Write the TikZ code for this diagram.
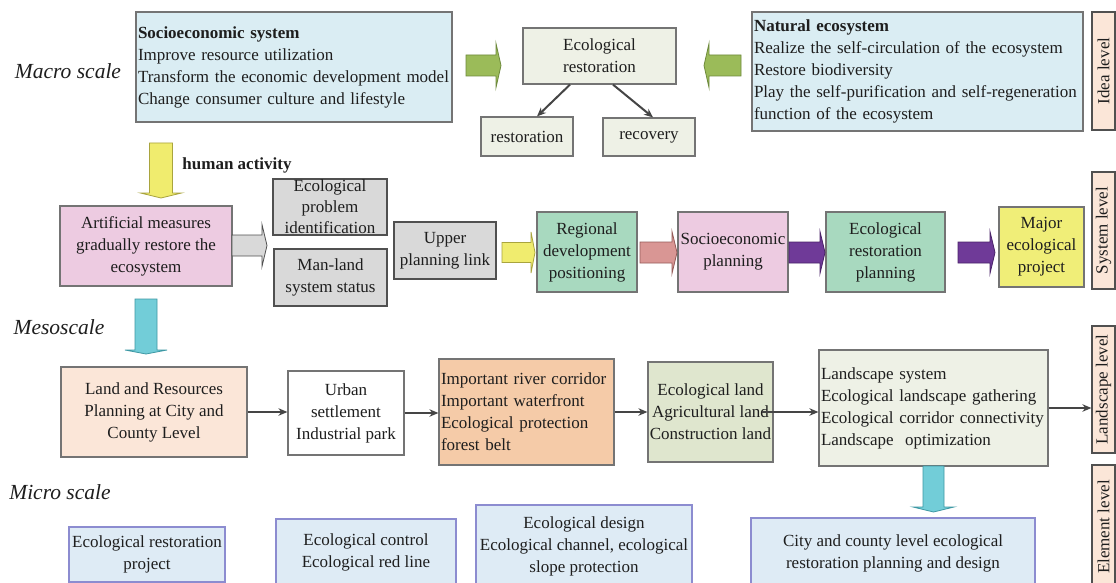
\documentclass[tikz,border=0pt]{standalone}
\usepackage{fontspec}
\setmainfont{Liberation Serif}
\usetikzlibrary{arrows.meta,calc}

\definecolor{ink}{HTML}{1E1E1E}
\definecolor{edge}{HTML}{747474}
\definecolor{darkedge}{HTML}{505050}
\definecolor{cblue}{HTML}{DAEDF3}
\definecolor{cpale}{HTML}{EEF1E6}
\definecolor{cgreen}{HTML}{9BBB59}
\definecolor{cgreenD}{HTML}{6E8A3C}
\definecolor{cyellow}{HTML}{F0EC6E}
\definecolor{cyellowD}{HTML}{A9A43E}
\definecolor{cpink}{HTML}{EDCBE1}
\definecolor{cgray}{HTML}{D9D9D9}
\definecolor{cmint}{HTML}{A8D9BF}
\definecolor{csalmon}{HTML}{D99694}
\definecolor{csalmonD}{HTML}{955B59}
\definecolor{cpurple}{HTML}{6F3A98}
\definecolor{cpurpleD}{HTML}{4A2368}
\definecolor{cyelbox}{HTML}{F0EE78}
\definecolor{cpeach}{HTML}{FBE6D8}
\definecolor{corange}{HTML}{F5CBA8}
\definecolor{colive}{HTML}{DFE6CE}
\definecolor{ccyan}{HTML}{72CDD8}
\definecolor{ccyanD}{HTML}{3E98A4}
\definecolor{cbot}{HTML}{DEEBF5}
\definecolor{cbotedge}{HTML}{8C8CD0}
\definecolor{conncol}{HTML}{454545}

% block arrow: style, tail point, direction angle, length, body half-width, head half-width, head length
\newcommand\blockarrow[7]{%
  \begin{scope}[shift={#2},rotate=#3]
    \filldraw[line width=0.8pt,#1] (0,#5) -- ({#4-#7},#5) -- ({#4-#7},#6) -- (#4,0)
      -- ({#4-#7},-#6) -- ({#4-#7},-#5) -- (0,-#5) -- cycle;
  \end{scope}}

\begin{document}
\begin{tikzpicture}[x=1pt,y=-1pt,
  box/.style={draw=edge, line width=1.2pt, inner sep=0pt, align=center, text=ink,
    font=\fontsize{17}{22}\selectfont},
  lbox/.style={box, align=left, inner xsep=2pt},
  graybox/.style={box, fill=cgray, draw=darkedge},
  botbox/.style={box, fill=cbot, draw=cbotedge},
  levelbox/.style={box, fill=cpeach, draw=darkedge, rotate=90, minimum height=23},
  scalelabel/.style={text=ink, inner sep=0pt, font=\fontsize{21.5}{26}\selectfont\itshape},
  conn/.style={draw=conncol, line width=2pt, -{Stealth[length=9pt,width=7.5pt]}},
  greenarrow/.style={fill=cgreen, draw=cgreenD},
  yellowarrow/.style={fill=cyellow, draw=cyellowD},
  grayarrow/.style={fill=cgray, draw=darkedge},
  salmonarrow/.style={fill=csalmon, draw=csalmonD},
  purplearrow/.style={fill=cpurple, draw=cpurpleD},
  cyanarrow/.style={fill=ccyan, draw=ccyanD},
]
\fill[white] (0,0) rectangle (1116,583);
\useasboundingbox (0,0) rectangle (1116,583);

% ---------- macro scale ----------
\node[scalelabel] (macro) at (68,71) {Macro scale};
\node[lbox, fill=cblue, minimum width=316, minimum height=110, text width=312] (socio) at (294,67)
  {\textbf{Socioeconomic system}\\Improve resource utilization\\Transform the economic development model\\Change consumer culture and lifestyle};
\node[box, fill=cpale, minimum width=153, minimum height=56] (ecor) at (599.5,56) {Ecological\\restoration};
\node[box, fill=cpale, minimum width=92, minimum height=39] (rest) at (527,136.5) {restoration};
\node[box, fill=cpale, minimum width=92, minimum height=38] (recov) at (649,137) {recovery};
\node[lbox, fill=cblue, minimum width=331, minimum height=119, text width=327] (natural) at (917.5,71.5)
  {\textbf{Natural ecosystem}\\Realize the self-circulation of the ecosystem\\Restore biodiversity\\Play the self-purification and self-regeneration\\function of the ecosystem};
\node[levelbox, minimum width=118] (idea) at (1103.5,71) {Idea level};

\coordinate (gaR) at (466,65.5);
\coordinate (gaL) at (741,65.5);
\blockarrow{greenarrow}{(gaR)}{0}{35}{10.5}{22}{5}
\blockarrow{greenarrow}{(gaL)}{180}{37}{10.5}{22}{5}

\draw[conn] ($(ecor.south)+(-29.5,0)$) -- ($(rest.north)+(10,0)$);
\draw[conn] ($(ecor.south)+(13.5,0)$) -- ($(recov.north)+(4,0)$);

% ---------- system row ----------
\node[text=ink, inner sep=0pt, font=\fontsize{17}{22}\selectfont\bfseries] (human) at (237,165) {human activity};
\coordinate (yaD) at (161,143);
\blockarrow{yellowarrow}{(yaD)}{-90}{55}{11.5}{20.5}{5}

\node[box, fill=cpink, minimum width=172, minimum height=80] (artif) at (146,246)
  {Artificial measures\\gradually restore the\\ecosystem};
\node[graybox, minimum width=114, minimum height=56, font=\fontsize{17}{21}\selectfont] (epi) at (330,207)
  {Ecological\\problem\\identification};
\node[graybox, minimum width=113, minimum height=57] (manland) at (330.5,277.5) {Man-land\\system status};
\node[graybox, minimum width=102, minimum height=57] (upper) at (445,250.5) {Upper\\planning link};
\node[box, fill=cmint, minimum width=100, minimum height=80] (regional) at (587,252)
  {Regional\\development\\positioning};
\node[box, fill=cpink, minimum width=110, minimum height=80] (socplan) at (733,252) {Socioeconomic\\planning};
\node[box, fill=cmint, minimum width=119, minimum height=80] (ecoplan) at (885.5,252)
  {Ecological\\restoration\\planning};
\node[box, fill=cyelbox, minimum width=85, minimum height=80] (major) at (1041.5,247)
  {Major\\ecological\\project};
\node[levelbox, minimum width=117] (syslvl) at (1103.5,230.5) {System level};

\coordinate (gyR) at (232,245.5);
\coordinate (yaR) at (502,252.5);
\coordinate (saR) at (640,252.5);
\coordinate (paR1) at (789,252.5);
\coordinate (paR2) at (958,252.5);
\blockarrow{grayarrow}{(gyR)}{0}{35}{10.5}{21}{5}
\blockarrow{yellowarrow}{(yaR)}{0}{33}{10}{20.5}{4}
\blockarrow{salmonarrow}{(saR)}{0}{37}{10.5}{21}{5}
\blockarrow{purplearrow}{(paR1)}{0}{36}{10.5}{21}{5}
\blockarrow{purplearrow}{(paR2)}{0}{37}{10.5}{21}{5}

% ---------- meso scale ----------
\node[scalelabel] (meso) at (59,327) {Mesoscale};
\coordinate (caD1) at (146,299);
\blockarrow{cyanarrow}{(caD1)}{-90}{55}{11}{21}{4}

\node[box, fill=cpeach, minimum width=186, minimum height=90] (land) at (154,412)
  {Land and Resources\\Planning at City and\\County Level};
\node[box, fill=white, minimum width=116, minimum height=84] (urban) at (346,413)
  {Urban\\settlement\\Industrial park};
\node[lbox, fill=corange, minimum width=175, minimum height=106, text width=171] (river) at (526.5,412)
  {Important river corridor\\Important waterfront\\Ecological protection\\forest belt};
\node[box, fill=colive, minimum width=125, minimum height=100] (ecoland) at (710.5,412)
  {Ecological land\\Agricultural land\\Construction land};
\node[lbox, fill=cpale, minimum width=229, minimum height=116, text width=225] (landsc) at (933.5,408)
  {Landscape system\\Ecological landscape gathering\\Ecological corridor connectivity\\Landscape~ optimization};
\node[levelbox, minimum width=127] (landlvl) at (1103.5,389.5) {Landscape level};

\draw[conn] (land.east) -- (land.east -| urban.west);
\draw[conn] (urban.east) -- (urban.east -| river.west);
\draw[conn] (river.east) -- (river.east -| ecoland.west);
\draw[conn] ($(ecoland.east)+(-12,0)$) -- (ecoland.east -| landsc.west);
\draw[conn] (landsc.east) -- (landsc.east -| landlvl.north);

% ---------- micro scale ----------
\node[scalelabel] (micro) at (60,492) {Micro scale};
\coordinate (caD2) at (933.5,466);
\blockarrow{cyanarrow}{(caD2)}{-90}{46}{10.5}{20.5}{5}

\node[botbox, minimum width=156, minimum height=55] (erp) at (147,554.5) {Ecological restoration\\project};
\node[botbox, minimum width=180, minimum height=66] (ectrl) at (366,552) {Ecological control\\Ecological red line};
\node[botbox, minimum width=216, minimum height=82] (edesign) at (584,546)
  {Ecological design\\Ecological channel, ecological\\slope protection};
\node[botbox, minimum width=284, minimum height=70] (city) at (893,553)
  {City and county level ecological\\restoration planning and design};
\node[levelbox, minimum width=124] (elemlvl) at (1103.5,527) {Element level};
\end{tikzpicture}
\end{document}
